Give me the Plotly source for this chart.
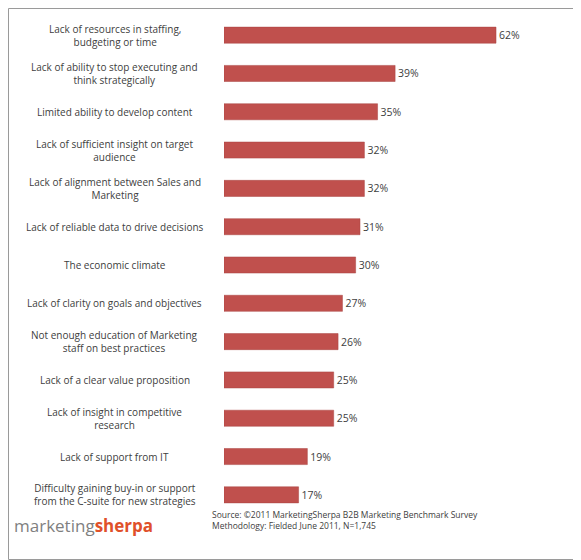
import plotly.graph_objects as go

labels = [
    "Lack of resources in staffing,<br>budgeting or time",
    "Lack of ability to stop executing and<br>think strategically",
    "Limited ability to develop content",
    "Lack of sufficient insight on target<br>audience",
    "Lack of alignment between Sales and<br>Marketing",
    "Lack of reliable data to drive decisions",
    "The economic climate",
    "Lack of clarity on goals and objectives",
    "Not enough education of Marketing<br>staff on best practices",
    "Lack of a clear value proposition",
    "Lack of insight in competitive<br>research",
    "Lack of support from IT",
    "Difficulty gaining buy-in or support<br>from the C-suite for new strategies",
]
values = [62, 39, 35, 32, 32, 31, 30, 27, 26, 25, 25, 19, 17]

# page body has an 8px margin, so the figure is shifted by that
off = 8
W, H = 581 - off, 560 - off
ml, mr, mt, mb = 224 - off, 6, 16 - off, 46
pw, ph = W - ml - mr, H - mt - mb

def px(x):
    return (x - off - ml) / pw

def py(y):
    return 1 - (y - off - mt) / ph

fig = go.Figure(go.Bar(
    x=values, y=list(range(len(values))), orientation="h",
    marker=dict(color="#C0504D", line=dict(color="#A94442", width=0.5)),
    width=0.42,
    text=[f"{v}%" for v in values], textposition="outside",
    textfont=dict(size=10.5, color="#404040", family="Open Sans"),
    cliponaxis=False,
))

for i, lab in enumerate(labels):
    fig.add_annotation(x=px(115), xref="paper", y=i, yref="y", text=lab,
                       showarrow=False, align="center", xanchor="center",
                       font=dict(size=10, color="#404040", family="Open Sans"))

fig.add_shape(type="rect", xref="paper", yref="paper",
              x0=px(off + 0.5), x1=px(off + W - 0.5),
              y0=py(off + H - 0.5), y1=py(off + 0.5),
              line=dict(color="#9a9a9a", width=1))

fig.add_annotation(x=px(12), xref="paper", y=py(539), yref="paper",
                   text="<span style='color:#7f7f7f'>marketing</span><span style='color:#E0502A'><b>sherpa</b></span>",
                   showarrow=False, xanchor="left", font=dict(size=17, family="Open Sans"))
fig.add_annotation(x=px(210), xref="paper", y=py(533), yref="paper",
                   text="Source: ©2011 MarketingSherpa B2B Marketing Benchmark Survey<br>Methodology: Fielded June 2011, N=1,745",
                   showarrow=False, xanchor="left", align="left",
                   font=dict(size=8.5, color="#404040", family="Open Sans"))

fig.update_layout(
    width=W, height=H, margin=dict(l=ml, r=mr, t=mt, b=mb),
    plot_bgcolor="white", paper_bgcolor="white", showlegend=False,
    xaxis=dict(range=[0, 80], visible=False),
    yaxis=dict(range=[len(values) - 0.5, -0.5], visible=False),
)
fig.write_html("out.html")
